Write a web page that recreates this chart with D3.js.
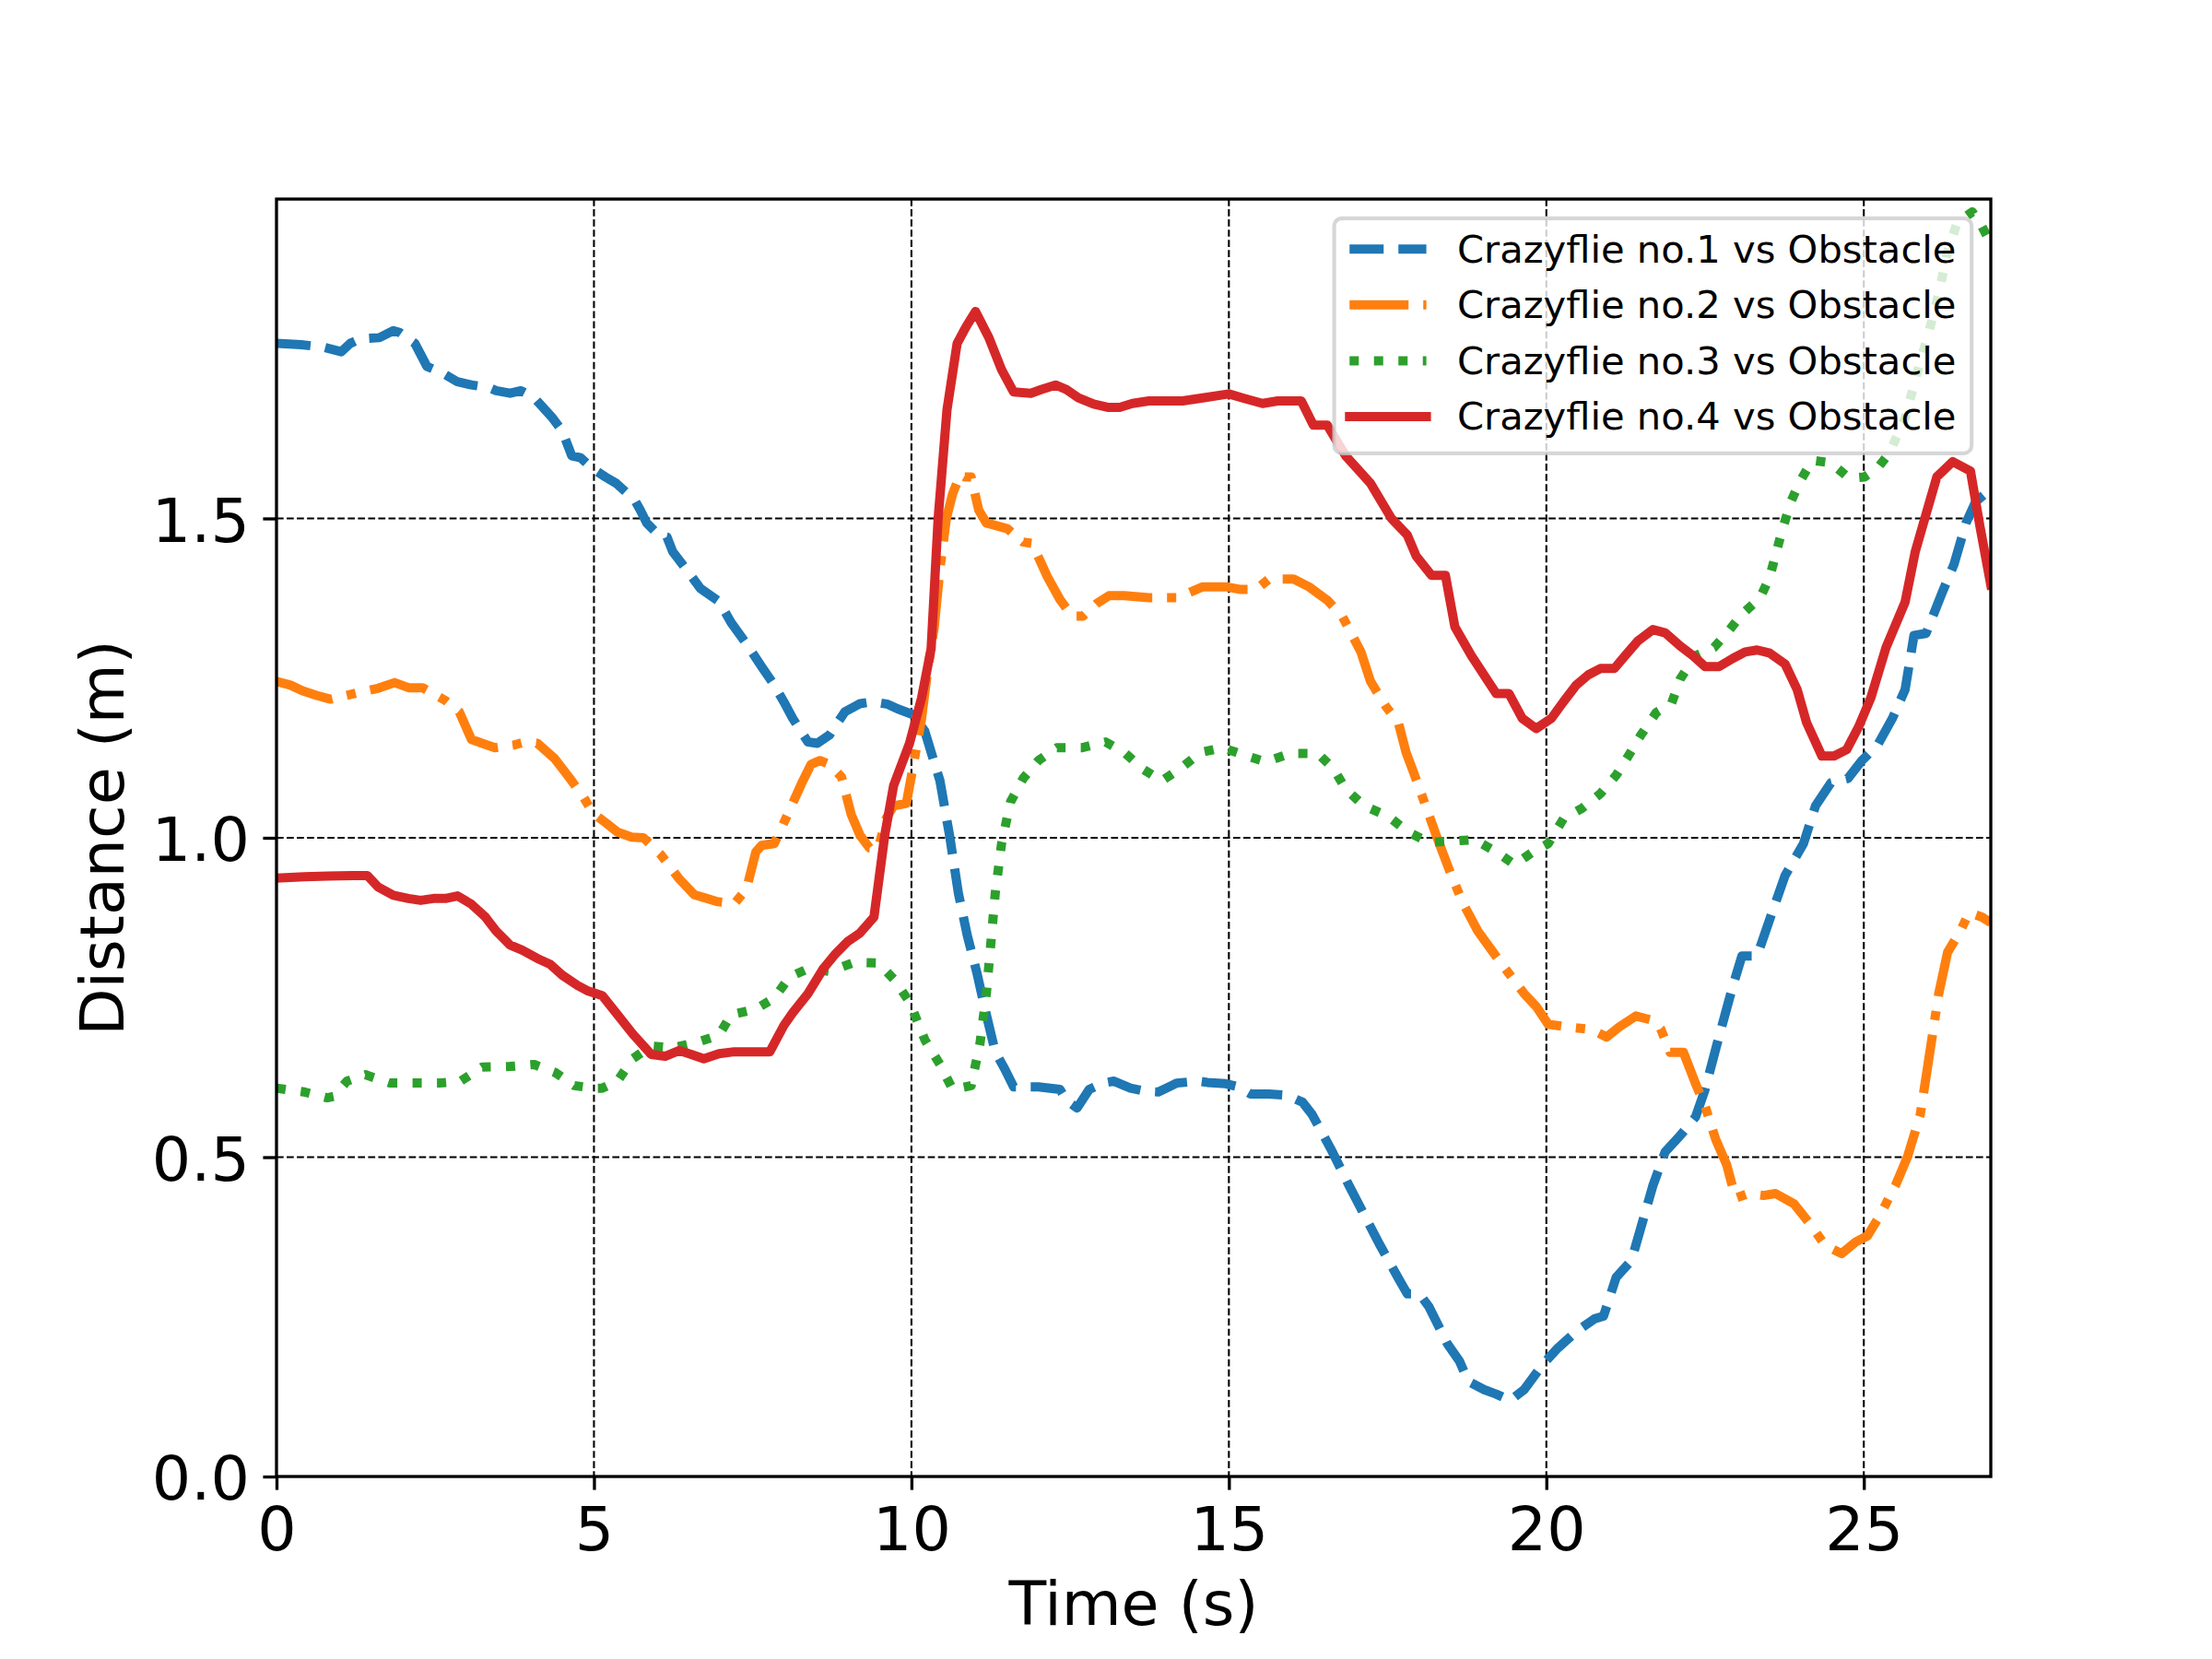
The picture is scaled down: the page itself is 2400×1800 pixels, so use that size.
<!DOCTYPE html>
<html>
<head>
<meta charset="utf-8">
<script src="https://cdn.jsdelivr.net/npm/d3@7"></script>
<style>
body { margin: 0; background: #fff; }
text { font-family: "DejaVu Sans", sans-serif; }
</style>
</head>
<body>
<div id="chart"></div>
<script>
// distance to the obstacle: [time (s), distance (m)]
var cf1 = [[0,1.774],[0.39,1.772],[0.75,1.768],[1.02,1.761],[1.16,1.774],[1.31,1.781],[1.62,1.783],[1.84,1.794],[1.94,1.791],[2.18,1.774],[2.37,1.738],[2.61,1.728],[2.85,1.714],[3.07,1.709],[3.34,1.705],[3.46,1.700],[3.68,1.696],[3.85,1.700],[4.06,1.689],[4.35,1.657],[4.5,1.637],[4.65,1.598],[4.79,1.595],[4.98,1.578],[5.18,1.565],[5.35,1.555],[5.64,1.529],[5.73,1.513],[5.83,1.493],[6.02,1.474],[6.15,1.471],[6.24,1.448],[6.44,1.422],[6.68,1.39],[6.97,1.37],[7.16,1.337],[7.40,1.304],[7.64,1.268],[7.84,1.239],[7.99,1.213],[8.13,1.187],[8.37,1.150],[8.52,1.148],[8.71,1.161],[8.95,1.197],[9.19,1.210],[9.39,1.213],[9.63,1.209],[9.78,1.202],[10.02,1.193],[10.21,1.167],[10.35,1.121],[10.45,1.089],[10.60,1.004],[10.74,0.913],[10.88,0.847],[11.03,0.789],[11.18,0.723],[11.32,0.665],[11.47,0.638],[11.61,0.610],[12.0,0.610],[12.34,0.606],[12.44,0.589],[12.61,0.577],[12.80,0.606],[13.02,0.616],[13.19,0.619],[13.45,0.608],[13.69,0.603],[13.89,0.602],[14.18,0.616],[14.52,0.619],[14.66,0.617],[14.95,0.615],[15.15,0.610],[15.34,0.599],[15.63,0.599],[15.92,0.597],[16.16,0.586],[16.31,0.567],[16.60,0.514],[16.89,0.456],[17.13,0.410],[17.37,0.364],[17.66,0.312],[17.81,0.286],[18.0,0.286],[18.15,0.266],[18.44,0.208],[18.63,0.181],[18.77,0.149],[19.02,0.136],[19.21,0.129],[19.43,0.119],[19.65,0.136],[19.94,0.175],[20.18,0.201],[20.47,0.227],[20.76,0.247],[20.90,0.251],[21.10,0.312],[21.34,0.338],[21.49,0.390],[21.68,0.456],[21.87,0.508],[22.11,0.534],[22.35,0.563],[22.50,0.606],[22.69,0.678],[22.94,0.769],[23.08,0.815],[23.32,0.815],[23.52,0.873],[23.76,0.941],[24.05,0.991],[24.24,1.050],[24.48,1.086],[24.75,1.093],[24.97,1.121],[25.21,1.144],[25.45,1.187],[25.65,1.232],[25.79,1.317],[25.98,1.320],[26.23,1.383],[26.42,1.428],[26.61,1.493],[26.76,1.526],[27.0,1.546]];

var cf2 = [[0,1.245],[0.22,1.239],[0.41,1.230],[0.63,1.223],[0.85,1.217],[1.11,1.223],[1.31,1.228],[1.60,1.234],[1.86,1.243],[2.08,1.235],[2.30,1.235],[2.66,1.215],[2.88,1.197],[3.07,1.154],[3.24,1.148],[3.44,1.141],[3.73,1.145],[3.92,1.150],[4.11,1.148],[4.38,1.124],[4.62,1.093],[4.84,1.063],[4.98,1.039],[5.18,1.024],[5.37,1.009],[5.59,1.001],[5.78,1.000],[6.05,0.974],[6.34,0.936],[6.58,0.911],[6.94,0.90],[7.21,0.897],[7.40,0.919],[7.55,0.978],[7.64,0.988],[7.84,0.991],[8.08,1.043],[8.27,1.085],[8.42,1.115],[8.56,1.121],[8.71,1.115],[8.90,1.095],[9.05,1.037],[9.19,1.004],[9.34,0.984],[9.48,0.984],[9.60,1.030],[9.72,1.050],[9.92,1.054],[10.02,1.108],[10.16,1.187],[10.26,1.265],[10.36,1.330],[10.45,1.422],[10.55,1.500],[10.65,1.539],[10.77,1.569],[10.84,1.565],[10.94,1.565],[11.06,1.513],[11.18,1.493],[11.51,1.484],[11.76,1.463],[11.90,1.461],[12.14,1.409],[12.34,1.373],[12.53,1.347],[12.70,1.347],[12.92,1.367],[13.11,1.379],[13.35,1.379],[13.74,1.376],[14.18,1.376],[14.59,1.393],[14.95,1.393],[15.17,1.389],[15.43,1.389],[15.63,1.405],[16.02,1.405],[16.26,1.393],[16.55,1.372],[16.79,1.346],[17.08,1.291],[17.23,1.245],[17.47,1.206],[17.67,1.180],[17.79,1.134],[17.91,1.102],[18.10,1.050],[18.29,0.997],[18.49,0.945],[18.68,0.899],[18.92,0.854],[19.16,0.821],[19.40,0.789],[19.65,0.756],[19.84,0.736],[20.03,0.708],[20.32,0.704],[20.71,0.700],[20.95,0.688],[21.15,0.704],[21.41,0.721],[21.68,0.714],[21.80,0.701],[21.95,0.664],[22.16,0.664],[22.35,0.615],[22.50,0.580],[22.67,0.527],[22.84,0.488],[22.98,0.436],[23.18,0.443],[23.42,0.440],[23.61,0.443],[23.90,0.427],[24.14,0.397],[24.39,0.362],[24.65,0.349],[24.87,0.367],[25.06,0.377],[25.26,0.410],[25.50,0.456],[25.69,0.501],[25.89,0.567],[26.03,0.658],[26.18,0.756],[26.32,0.821],[26.52,0.854],[26.66,0.883],[26.86,0.876],[27.0,0.867]];

var cf3 = [[0,0.608],[0.44,0.602],[0.80,0.593],[0.9,0.595],[1.11,0.619],[1.40,0.629],[1.79,0.616],[2.18,0.616],[2.56,0.616],[2.90,0.619],[3.24,0.641],[3.68,0.642],[4.06,0.645],[4.40,0.632],[4.69,0.612],[4.98,0.608],[5.13,0.608],[5.37,0.619],[5.61,0.654],[5.90,0.674],[6.24,0.671],[6.63,0.680],[6.97,0.691],[7.16,0.723],[7.55,0.732],[7.84,0.749],[8.08,0.782],[8.37,0.795],[8.71,0.791],[9.10,0.805],[9.48,0.804],[9.72,0.779],[9.97,0.743],[10.21,0.684],[10.45,0.645],[10.65,0.606],[10.94,0.612],[11.08,0.678],[11.18,0.756],[11.25,0.834],[11.32,0.913],[11.42,0.991],[11.56,1.056],[11.76,1.093],[12.0,1.121],[12.29,1.141],[12.68,1.141],[13.06,1.150],[13.35,1.134],[13.64,1.108],[13.94,1.089],[14.23,1.108],[14.56,1.134],[14.90,1.141],[15.29,1.128],[15.58,1.119],[15.97,1.132],[16.40,1.132],[16.65,1.108],[16.84,1.076],[17.13,1.050],[17.52,1.033],[17.81,1.010],[18.15,0.993],[18.54,0.995],[18.87,0.997],[19.21,0.978],[19.50,0.958],[19.79,0.978],[20.03,0.991],[20.27,1.030],[20.56,1.046],[20.85,1.069],[21.10,1.098],[21.29,1.128],[21.49,1.161],[21.73,1.196],[21.97,1.210],[22.11,1.249],[22.35,1.285],[22.64,1.298],[22.84,1.320],[23.08,1.350],[23.37,1.376],[23.52,1.409],[23.71,1.480],[23.85,1.526],[24.00,1.559],[24.19,1.591],[24.48,1.587],[24.77,1.563],[25.01,1.565],[25.21,1.578],[25.40,1.602],[25.65,1.657],[25.84,1.728],[26.03,1.794],[26.18,1.852],[26.32,1.918],[26.47,1.963],[26.71,1.980],[26.86,1.957],[27.0,1.931]];

var cf4 = [[0,0.937],[0.44,0.939],[0.82,0.940],[1.21,0.941],[1.43,0.941],[1.60,0.923],[1.84,0.910],[2.08,0.905],[2.27,0.902],[2.47,0.905],[2.66,0.905],[2.85,0.909],[3.07,0.896],[3.29,0.876],[3.46,0.854],[3.68,0.832],[3.87,0.824],[4.11,0.811],[4.31,0.802],[4.50,0.785],[4.74,0.769],[4.91,0.760],[5.13,0.753],[5.37,0.723],[5.61,0.693],[5.90,0.661],[6.12,0.658],[6.34,0.667],[6.53,0.661],[6.73,0.654],[6.97,0.662],[7.21,0.665],[7.40,0.665],[7.77,0.665],[7.99,0.706],[8.13,0.726],[8.37,0.756],[8.61,0.795],[8.81,0.819],[9.00,0.838],[9.19,0.851],[9.41,0.876],[9.58,1.004],[9.72,1.082],[9.97,1.148],[10.16,1.219],[10.31,1.296],[10.42,1.499],[10.56,1.670],[10.72,1.774],[10.86,1.800],[11.01,1.824],[11.22,1.783],[11.42,1.733],[11.61,1.698],[11.88,1.696],[12.05,1.702],[12.27,1.709],[12.44,1.702],[12.63,1.689],[12.87,1.679],[13.09,1.674],[13.28,1.674],[13.48,1.680],[13.74,1.684],[14.27,1.684],[14.61,1.689],[15.0,1.695],[15.24,1.688],[15.53,1.680],[15.77,1.684],[16.14,1.684],[16.33,1.646],[16.55,1.646],[16.84,1.598],[17.23,1.555],[17.56,1.500],[17.81,1.474],[17.95,1.441],[18.19,1.411],[18.41,1.411],[18.56,1.330],[18.82,1.285],[19.21,1.226],[19.41,1.226],[19.62,1.187],[19.84,1.171],[20.08,1.187],[20.27,1.213],[20.47,1.239],[20.66,1.255],[20.85,1.265],[21.07,1.265],[21.24,1.285],[21.44,1.308],[21.68,1.326],[21.87,1.321],[22.11,1.300],[22.31,1.285],[22.50,1.268],[22.72,1.268],[22.94,1.281],[23.13,1.291],[23.32,1.294],[23.52,1.289],[23.76,1.272],[23.95,1.232],[24.10,1.180],[24.34,1.128],[24.53,1.128],[24.73,1.138],[24.92,1.174],[25.11,1.219],[25.35,1.298],[25.65,1.369],[25.81,1.448],[25.94,1.493],[26.15,1.565],[26.40,1.589],[26.68,1.574],[26.83,1.487],[27.0,1.396]];

var seriesLabels = ["Crazyflie no.1 vs Obstacle", "Crazyflie no.2 vs Obstacle",
                    "Crazyflie no.3 vs Obstacle", "Crazyflie no.4 vs Obstacle"];
var seriesColors = ["#1f77b4", "#ff7f0e", "#2ca02c", "#d62728"];
var xTicks = [0, 5, 10, 15, 20, 25];
var yTicks = [0, 0.5, 1.0, 1.5];
var xLabel = "Time (s)";
var yLabel = "Distance (m)";

// matplotlib-ish sizes at 300 dpi (1pt = 4.1667px)
var pt = 300 / 72;
var lw = 2.4 * pt;
var dashes = [
	[3.7 * lw, 1.6 * lw],
	[6.4 * lw, 1.6 * lw, 1 * lw, 1.6 * lw],
	[1 * lw, 1.65 * lw],
	null
];

var W = 2400, H = 1800;
var margin = {top: 216, right: 240, bottom: 198, left: 300},
	width = W - margin.left - margin.right,
	height = H - margin.top - margin.bottom;

var svg = d3.select("#chart")
	.append("svg")
	  .attr("width", W)
	  .attr("height", H);

svg.append("rect")
	.attr("width", W)
	.attr("height", H)
	.attr("fill", "#fff");

var g = svg.append("g")
	.attr("transform", "translate(" + margin.left + "," + margin.top + ")");

var x = d3.scaleLinear().domain([0, 27]).range([0, width]);
var y = d3.scaleLinear().domain([0, 2]).range([height, 0]);

g.append("clipPath")
	.attr("id", "plotclip")
  .append("rect")
	.attr("width", width)
	.attr("height", height);

// grid (below the lines)
var grid = g.append("g").attr("class", "grid");
grid.selectAll("line.gx")
	.data(xTicks.filter(function(d){ return d > 0; }))
  .enter().append("line")
	.attr("x1", function(d){ return x(d); })
	.attr("x2", function(d){ return x(d); })
	.attr("y1", 0).attr("y2", height);
grid.selectAll("line.gy")
	.data(yTicks.filter(function(d){ return d > 0; }))
  .enter().append("line")
	.attr("x1", 0).attr("x2", width)
	.attr("y1", function(d){ return y(d); })
	.attr("y2", function(d){ return y(d); });
grid.selectAll("line")
	.attr("stroke", "#000")
	.attr("stroke-width", 0.5 * pt)
	.attr("stroke-dasharray", (3.7 * 0.5 * pt) + "," + (1.6 * 0.5 * pt));

// data lines
var line = d3.line()
	.x(function(d){ return x(d[0]); })
	.y(function(d){ return y(d[1]); });

var allSeries = [cf1, cf2, cf3, cf4];

g.append("g")
	.attr("clip-path", "url(#plotclip)")
  .selectAll("path")
	.data(allSeries)
  .enter().append("path")
	.attr("d", line)
	.attr("fill", "none")
	.attr("stroke", function(d, i){ return seriesColors[i]; })
	.attr("stroke-width", lw)
	.attr("stroke-linejoin", "round")
	.attr("stroke-linecap", function(d, i){ return dashes[i] ? "butt" : "square"; })
	.attr("stroke-dasharray", function(d, i){ return dashes[i] ? dashes[i].join(",") : null; });

// axes
var tickLen = 3.5 * pt, tickPad = 3.5 * pt, fs = 16 * pt;

var xAxis = g.append("g")
	.attr("transform", "translate(0," + height + ")")
	.call(d3.axisBottom(x).tickValues(xTicks).tickFormat(d3.format("d"))
		.tickSize(tickLen).tickSizeOuter(0));
xAxis.select(".domain").remove();
xAxis.selectAll("text")
	.attr("y", tickLen + tickPad + 0.76 * fs)
	.attr("dy", null);

var yAxis = g.append("g")
	.call(d3.axisLeft(y).tickValues(yTicks).tickFormat(d3.format(".1f"))
		.tickSize(tickLen).tickSizeOuter(0));
yAxis.select(".domain").remove();
yAxis.selectAll("text")
	.attr("x", -(tickLen + tickPad))
	.attr("dy", (0.37 * fs) + "px");

g.selectAll(".tick line")
	.attr("stroke", "#000")
	.attr("stroke-width", 0.8 * pt);
g.selectAll(".tick text")
	.attr("fill", "#000")
	.style("font-size", fs + "px")
	.style("font-family", "'DejaVu Sans', sans-serif");

// spines
g.append("rect")
	.attr("width", width)
	.attr("height", height)
	.attr("fill", "none")
	.attr("stroke", "#000")
	.attr("stroke-width", 0.8 * pt);

// axis labels
svg.append("text")
	.attr("x", margin.left + width / 2)
	.attr("y", 1763)
	.attr("text-anchor", "middle")
	.style("font-size", fs + "px")
	.text(xLabel);

svg.append("text")
	.attr("transform", "translate(134," + (margin.top + height / 2) + ") rotate(-90)")
	.attr("text-anchor", "middle")
	.style("font-size", fs + "px")
	.text(yLabel);

// legend, upper right
var lfs = 10 * pt,
	borderPad = 0.4 * lfs,
	axesPad = 0.5 * lfs,
	handleLen = 2.0 * lfs,
	handlePad = 0.8 * lfs,
	rowH = 0.955 * lfs,
	rowGap = 0.5 * lfs;

var legend = svg.append("g");
var frame = legend.append("rect");

var legendTop = margin.top + axesPad;
var rows = legend.selectAll("g")
	.data(seriesLabels)
  .enter().append("g");

var labels = rows.append("text")
	.attr("y", function(d, i){ return legendTop + borderPad + i * (rowH + rowGap) + 0.745 * lfs; })
	.style("font-size", lfs + "px")
	.text(function(d){ return d; });

var textW = d3.max(labels.nodes(), function(n){ return n.getComputedTextLength(); });
var legendRight = margin.left + width - axesPad;
var legendW = 2 * borderPad + handleLen + handlePad + textW;
var legendH = 2 * borderPad + seriesLabels.length * rowH + (seriesLabels.length - 1) * rowGap;
var legendLeft = legendRight - legendW;

frame
	.attr("x", legendLeft)
	.attr("y", legendTop)
	.attr("width", legendW)
	.attr("height", legendH)
	.attr("rx", 0.2 * lfs)
	.attr("fill", "#fff")
	.attr("fill-opacity", 0.8)
	.attr("stroke", "#cccccc")
	.attr("stroke-opacity", 0.8)
	.attr("stroke-width", 1.0 * pt);

labels.attr("x", legendLeft + borderPad + handleLen + handlePad);

rows.append("line")
	.attr("x1", legendLeft + borderPad)
	.attr("x2", legendLeft + borderPad + handleLen)
	.attr("y1", function(d, i){ return legendTop + borderPad + i * (rowH + rowGap) + 0.4 * lfs; })
	.attr("y2", function(d, i){ return legendTop + borderPad + i * (rowH + rowGap) + 0.4 * lfs; })
	.attr("stroke", function(d, i){ return seriesColors[i]; })
	.attr("stroke-width", lw)
	.attr("stroke-linecap", function(d, i){ return dashes[i] ? "butt" : "square"; })
	.attr("stroke-dasharray", function(d, i){ return dashes[i] ? dashes[i].join(",") : null; });
</script>
</body>
</html>
